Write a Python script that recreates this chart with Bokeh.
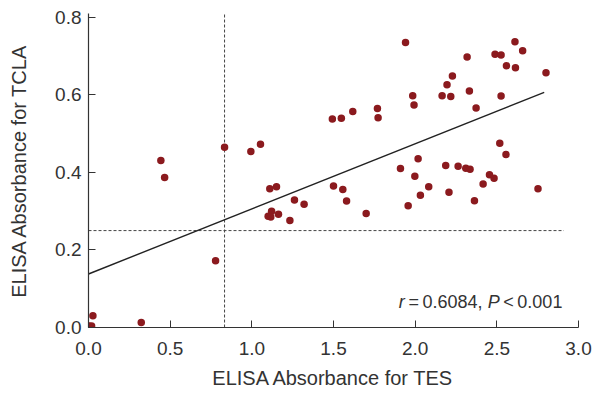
from bokeh.plotting import figure
from bokeh.models import Label, FixedTicker, PrintfTickFormatter, Range1d
from bokeh.embed import file_html
from bokeh.resources import INLINE

# Data (ELISA absorbance TES vs TCLA)
tes = [0.004, 0.019, 0.027, 0.323, 0.443, 0.466, 0.778, 0.833, 0.994, 1.053,
       1.110, 1.151, 1.121, 1.100, 1.116, 1.163, 1.233, 1.261, 1.320, 1.500,
       1.493, 1.548, 1.557, 1.580, 1.618, 1.700, 1.769, 1.773, 1.941, 1.910,
       1.957, 1.998, 1.993, 1.985, 2.018, 2.032, 2.083, 2.165, 2.187, 2.195,
       2.207, 2.218, 2.228, 2.263, 2.310, 2.336, 2.318, 2.332, 2.373, 2.363,
       2.416, 2.455, 2.483, 2.489, 2.526, 2.526, 2.518, 2.556, 2.559, 2.611,
       2.614, 2.658, 2.752, 2.801]
tcla = [0.004, 0.004, 0.030, 0.013, 0.431, 0.387, 0.172, 0.465, 0.454, 0.473,
        0.358, 0.363, 0.300, 0.287, 0.285, 0.292, 0.276, 0.329, 0.318, 0.365,
        0.538, 0.540, 0.356, 0.326, 0.557, 0.294, 0.565, 0.541, 0.735, 0.410,
        0.314, 0.390, 0.574, 0.598, 0.435, 0.341, 0.363, 0.598, 0.418, 0.626,
        0.349, 0.596, 0.649, 0.416, 0.411, 0.408, 0.698, 0.610, 0.566, 0.327,
        0.370, 0.394, 0.385, 0.705, 0.703, 0.597, 0.475, 0.446, 0.675, 0.737,
        0.670, 0.714, 0.358, 0.657]

fit_intercept = 0.138
fit_slope = 0.168
fit_x = [0.0, 2.79]
fit_y = [fit_intercept + fit_slope * v for v in fit_x]

cut_tes = 0.833
cut_tcla = 0.25
vline_y = [0.0, 0.81]
hline_x = [0.0, 2.91]

x_ticks = [0.0, 0.5, 1.0, 1.5, 2.0, 2.5, 3.0]
y_ticks = [0.0, 0.2, 0.4, 0.6, 0.8]

FONT = "Liberation Sans"
DOT = "#8B1A1E"
INK = "#333333"

p = figure(width=596, height=395, output_backend="svg", toolbar_location=None,
           x_range=Range1d(0, 3.0), y_range=Range1d(0, 0.81),
           min_border_left=88, min_border_right=18, min_border_top=13,
           min_border_bottom=68)
p.outline_line_color = None
p.xgrid.visible = False
p.ygrid.visible = False

# threshold lines
p.line([cut_tes, cut_tes], vline_y, line_color="#444444", line_width=1, line_dash="3 2")
p.line(hline_x, [cut_tcla, cut_tcla], line_color="#444444", line_width=1, line_dash="3 2")
# regression
p.line(fit_x, fit_y, line_color="#222222", line_width=1.4)
# points
p.scatter(tes, tcla, size=7.5, fill_color=DOT, line_color=None)

for ax in (p.xaxis[0], p.yaxis[0]):
    ax.axis_line_color = INK
    ax.axis_line_width = 1.2
    ax.major_tick_in = 7
    ax.major_tick_out = 0
    ax.major_tick_line_color = INK
    ax.minor_tick_line_color = None
    ax.major_label_text_font = FONT
    ax.major_label_text_font_size = "19px"
    ax.major_label_text_color = INK
    ax.axis_label_text_font = FONT
    ax.axis_label_text_font_size = "20px"
    ax.axis_label_text_font_style = "normal"
    ax.axis_label_text_color = INK
    ax.formatter = PrintfTickFormatter(format="%.1f")

p.xaxis.ticker = FixedTicker(ticks=x_ticks)
p.yaxis.ticker = FixedTicker(ticks=y_ticks)
p.xaxis.axis_label = "ELISA Absorbance for TES"
p.yaxis.axis_label = "ELISA Absorbance for TCLA"
p.xaxis.major_label_standoff = 14
p.xaxis.axis_label_standoff = 9
p.yaxis.major_label_standoff = 7
p.yaxis.axis_label_standoff = 22

# annotation r = 0.6084, P < 0.001
ann_x, ann_y = 1.90, 0.065
pieces = [("r", "italic", 0), ("\u2009=\u20090.6084, ", "normal", 6.0),
          ("P", "italic", 88.8), ("\u2009<\u20090.001", "normal", 100.8)]
for txt, style, off in pieces:
    p.add_layout(Label(x=ann_x, y=ann_y, x_offset=off, text=txt,
                       text_font=FONT, text_font_size="18px",
                       text_font_style=style, text_color=INK,
                       text_baseline="alphabetic", text_align="left"))

open("out.html", "w").write(file_html(p, INLINE))
